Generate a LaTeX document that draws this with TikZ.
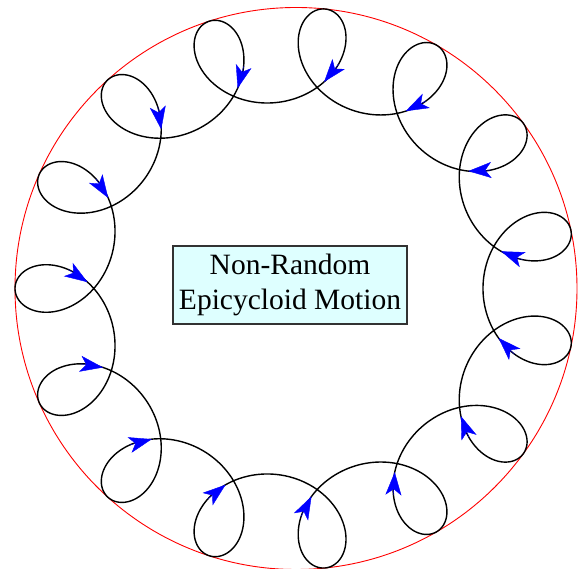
\documentclass[tikz,border=0pt]{standalone}
\usepackage{fontspec}
\setmainfont{Liberation Serif}
\usetikzlibrary{arrows.meta}
\definecolor{boxfill}{RGB}{222,255,255}
\definecolor{boxline}{RGB}{50,50,50}
\tikzset{
  curve/.style={black, line width=1.4pt, line join=round},
  redcirc/.style={red, line width=0.9pt},
  bluearrow/.style={blue, line width=0.4pt, -{Stealth[length=23pt, width=16pt, inset=6pt]}},
  labelbox/.style={draw=boxline, line width=1.3pt, fill=boxfill, align=center,
    minimum width=234pt, minimum height=78pt, inner sep=2pt,
    font=\fontsize{29.5}{35}\selectfont}
}
\begin{document}
\begin{tikzpicture}[x=1pt,y=1pt]
\useasboundingbox (0,0) rectangle (584,569);
\def\Rzero{234}
\def\dd{47}
\begin{scope}[shift={(296,280.5)}]
  \draw[redcirc] (0,0) circle[radius=281pt];
  \draw[curve] plot[domain=0:360, samples=2401, variable=\t]
    ({\Rzero*cos(\t) - \dd*cos(14*\t)}, {\Rzero*sin(\t) + \dd*sin(14*\t)});
  \foreach \k in {0,...,14} {
    \pgfmathsetmacro\atail{12+24*\k+6.85}
    \pgfmathsetmacro\atip{12+24*\k+8.52}
    \coordinate (tail\k) at ({\Rzero*cos(\atail) - \dd*cos(14*\atail)}, {\Rzero*sin(\atail) + \dd*sin(14*\atail)});
    \coordinate (tip\k) at ({\Rzero*cos(\atip) - \dd*cos(14*\atip)}, {\Rzero*sin(\atip) + \dd*sin(14*\atip)});
    \draw[bluearrow] (tail\k) -- (tip\k);
  }
\end{scope}
\node[labelbox] (lbl) at (290,284) {Non-Random\\Epicycloid Motion};
\end{tikzpicture}
\end{document}
